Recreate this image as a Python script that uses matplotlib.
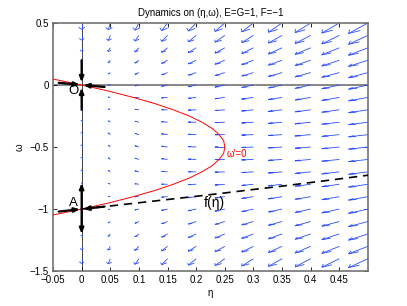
import numpy as np
import matplotlib
matplotlib.use('Agg')
import matplotlib.pyplot as plt
from matplotlib.collections import LineCollection

plt.rcParams['font.family'] = ['Liberation Sans', 'DejaVu Sans']
plt.rcParams['font.size'] = 7

# =============================================================================
# DATA
# =============================================================================
# model parameters (from the title)
E, G, F = 1.0, 1.0, -1.0

# quiver grid
eta_grid   = np.round(np.arange(0.0, 0.5001, 0.05), 3)
omega_grid = np.round(np.arange(-1.5, 0.5001, 0.1), 3)
arrow_scale = 0.068

# omega' = 0 nullcline
null_omega = [0.048, 0.0, -0.05, -0.1, -0.15, -0.2, -0.25, -0.3, -0.35, -0.4, -0.45, -0.5,
              -0.55, -0.6, -0.65, -0.7, -0.75, -0.8, -0.85, -0.9, -0.95, -1.0, -1.048]
null_eta   = [-0.05, 0.0, 0.048, 0.09, 0.128, 0.16, 0.188, 0.21, 0.228, 0.24, 0.248, 0.25,
              0.248, 0.24, 0.228, 0.21, 0.188, 0.16, 0.128, 0.09, 0.048, 0.0, -0.05]

# f(eta): dashed curve through A
f_eta   = [0.0, 0.05, 0.1, 0.15, 0.2, 0.25, 0.3, 0.35, 0.4, 0.45, 0.5]
f_omega = [-1.0, -0.975, -0.949, -0.923, -0.897, -0.870, -0.842, -0.815, -0.786, -0.757, -0.727]

# black arrows near the fixed points: (start, end)
arrows_O = [((0.0, 0.20), (0.0, 0.022)), ((0.0, -0.20), (0.0, -0.022)),
            ((-0.04, 0.018), (-0.003, 0.002)), ((0.04, -0.016), (0.003, -0.001))]
arrows_A = [((0.0, -1.0), (0.0, -0.79)), ((0.0, -1.0), (0.0, -1.20)),
            ((-0.04, -1.02), (-0.003, -1.001)), ((0.04, -0.98), (0.003, -0.999))]

xticks = [-0.05, 0, 0.05, 0.1, 0.15, 0.2, 0.25, 0.3, 0.35, 0.4, 0.45]
xticklabels = ['\u22120.05', '0', '0.05', '0.1', '0.15', '0.2', '0.25', '0.3', '0.35', '0.4', '0.45']
yticks = [-1.5, -1, -0.5, 0, 0.5]
yticklabels = ['\u22121.5', '\u22121', '\u22120.5', '0', '0.5']

# =============================================================================
# FIGURE
# =============================================================================
fig = plt.figure(figsize=(4.07, 3.06), dpi=100)
ax = fig.add_axes([0.1302, 0.114, 0.774, 0.811])

# vector field, drawn with MATLAB-like open arrowheads
ETA, OM = np.meshgrid(eta_grid, omega_grid)
U = F * ETA * arrow_scale
V = F * (E * OM**2 + G * OM + ETA) * arrow_scale
X1, Y1 = ETA + U, OM + V
a, b = 0.33, 0.33
hx1 = X1 - a * (U + b * V); hy1 = Y1 - a * (V - b * U)
hx2 = X1 - a * (U - b * V); hy2 = Y1 - a * (V + b * U)
segs = []
for i in range(ETA.shape[0]):
    for j in range(ETA.shape[1]):
        segs.append([(ETA[i, j], OM[i, j]), (X1[i, j], Y1[i, j])])
        segs.append([(hx1[i, j], hy1[i, j]), (X1[i, j], Y1[i, j]), (hx2[i, j], hy2[i, j])])
ax.add_collection(LineCollection(segs, colors='#2a4dff', linewidths=0.6))

# axes lines
ax.axhline(0, color='0.45', lw=1.2, zorder=1)
ax.axvline(0, color='0.25', lw=0.7, zorder=1)

# nullcline and manifold
ax.plot(null_eta, null_omega, color='red', lw=0.7, zorder=3)
ax.plot(f_eta, f_omega, 'k--', lw=1.2, dashes=(5, 3.5), zorder=3)

for (p0, p1) in arrows_O + arrows_A:
    ax.annotate('', xy=p1, xytext=p0,
                arrowprops=dict(arrowstyle='-|>,head_length=0.45,head_width=0.18',
                                color='black', lw=1.6, shrinkA=0, shrinkB=0), zorder=4)

ax.text(-0.0135, -0.05, 'O', fontsize=9.5, ha='center', va='center')
ax.text(-0.0135, -0.955, 'A', fontsize=9.5, ha='center', va='center')
ax.text(0.232, -0.955, 'f(\u03b7)', fontsize=10, ha='center', va='center')
ax.text(0.254, -0.556, '\u03c9\u2032=0', fontsize=7, color='red', ha='left', va='center')

ax.set_xlim(-0.05, 0.5)
ax.set_ylim(-1.5, 0.5)
ax.set_xticks(xticks)
ax.set_xticklabels(xticklabels)
ax.set_yticks(yticks)
ax.set_yticklabels(yticklabels)
ax.tick_params(direction='in', top=True, right=True, length=3, width=0.6, labelsize=7, pad=3)
for sp in ax.spines.values():
    sp.set_color('0.45')
    sp.set_linewidth(1.2)

ax.set_xlabel('\u03b7', fontsize=7, labelpad=2)
ax.set_ylabel('\u03c9', fontsize=7, labelpad=4)
ax.set_title('Dynamics on (\u03b7,\u03c9), E=G=1, F=\u22121', fontsize=7, pad=5)

fig.savefig('out.png', dpi=100)
